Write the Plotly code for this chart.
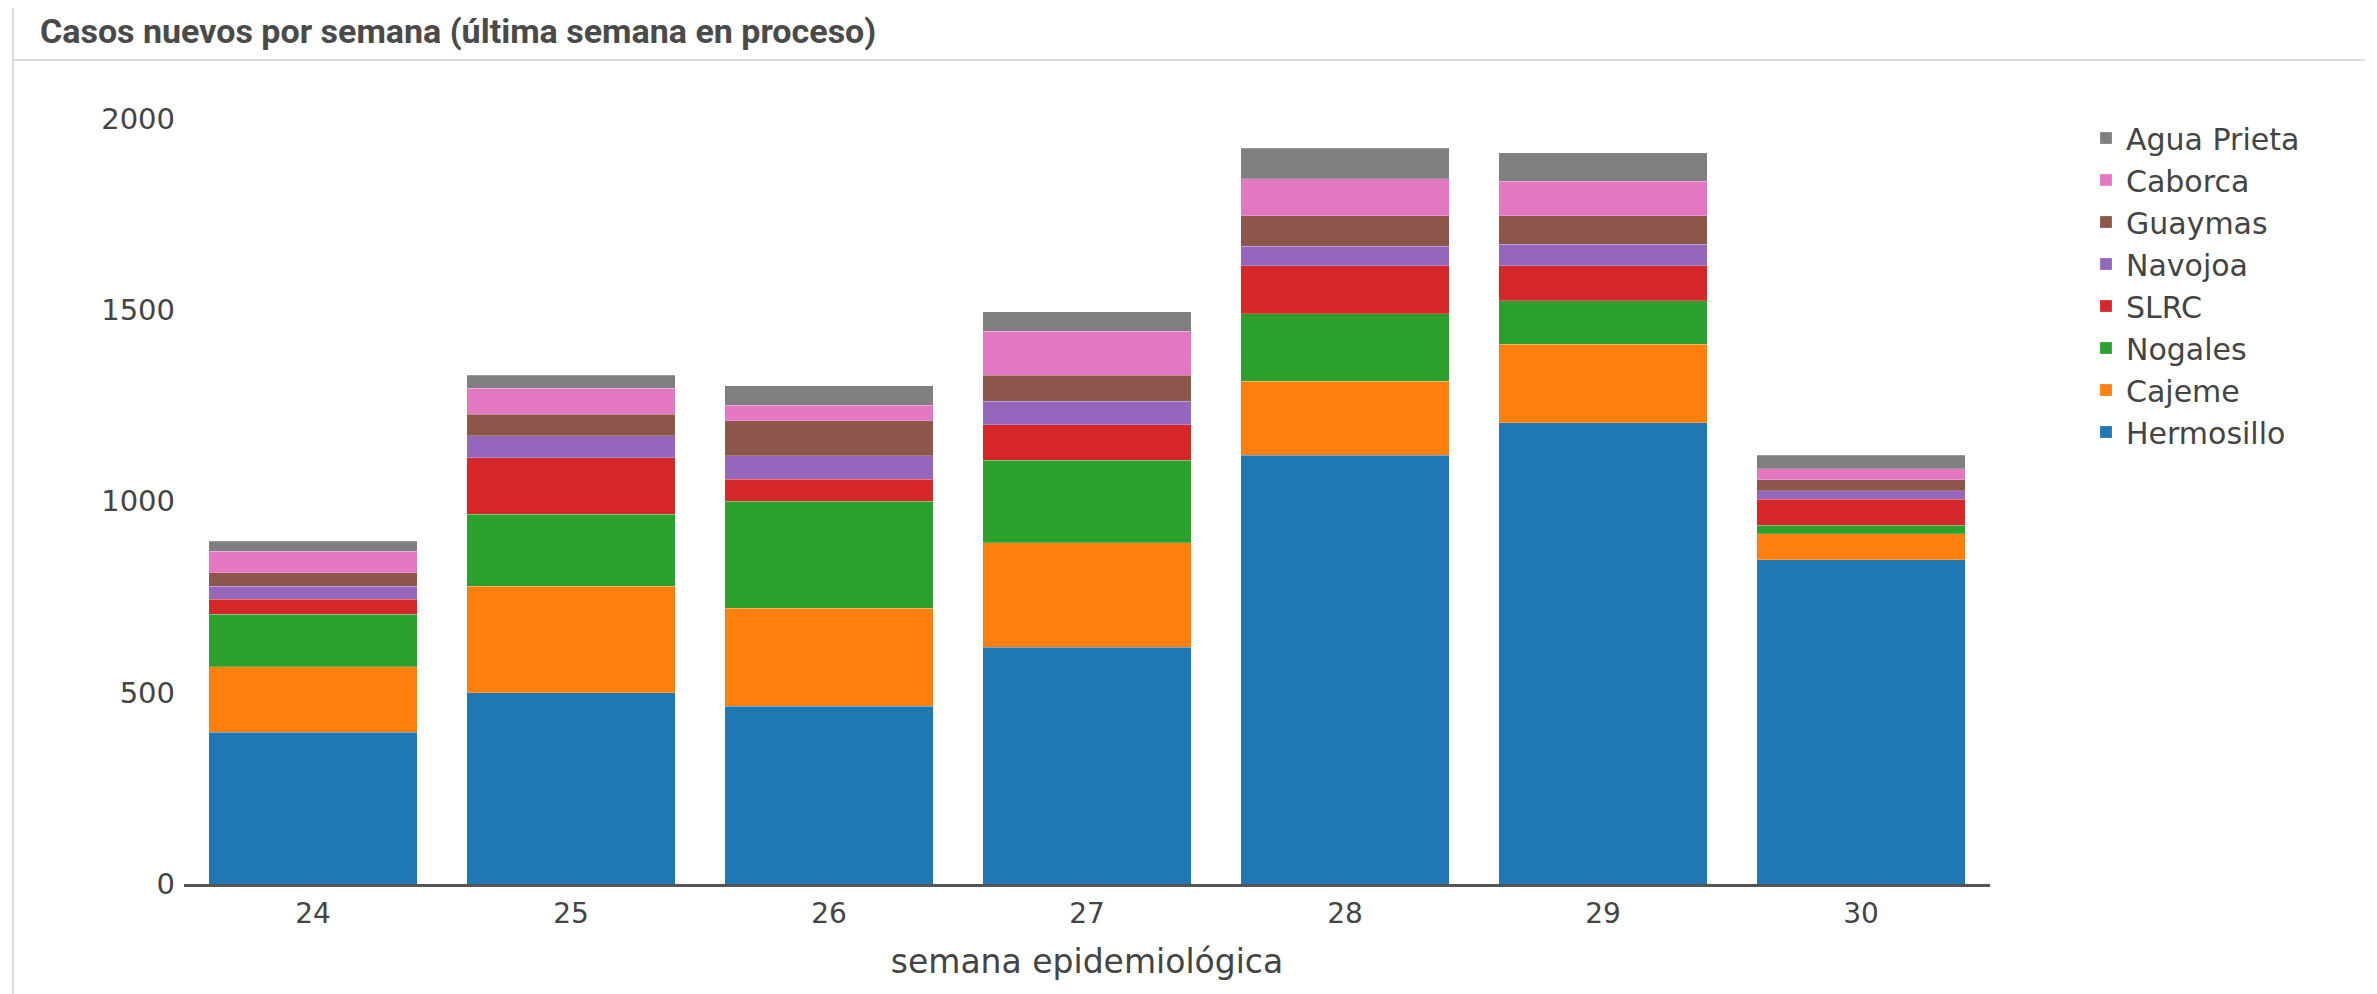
import plotly.graph_objects as go

weeks = ["24", "25", "26", "27", "28", "29", "30"]
hermosillo = [397, 500, 465, 619, 1120, 1206, 847]
cajeme = [171, 278, 256, 273, 194, 205, 68]
nogales = [137, 188, 279, 216, 176, 113, 22]
slrc = [39, 148, 58, 92, 125, 91, 68]
navojoa = [34, 57, 61, 62, 52, 57, 23]
guaymas = [35, 57, 92, 68, 79, 74, 29]
caborca = [57, 68, 40, 114, 97, 91, 28]
agua_prieta = [26, 34, 51, 52, 80, 74, 35]

series = [
    ("Hermosillo", hermosillo, "#1f77b4"),
    ("Cajeme", cajeme, "#ff7f0e"),
    ("Nogales", nogales, "#2ca02c"),
    ("SLRC", slrc, "#d62728"),
    ("Navojoa", navojoa, "#9467bd"),
    ("Guaymas", guaymas, "#8c564b"),
    ("Caborca", caborca, "#e377c2"),
    ("Agua Prieta", agua_prieta, "#7f7f7f"),
]

W, H = 2377, 994
L, R, T, B = 176, 395, 103, 118
PW, PH = W - L - R, H - T - B


def px(x):
    return (x - L) / PW


def py(y):
    return (H - B - y) / PH


fig = go.Figure()
for name, vals, col in series:
    fig.add_trace(go.Bar(
        x=weeks, y=vals, name=name,
        marker=dict(color=col, line=dict(color="rgba(255,255,255,0.35)", width=0.6)),
    ))

font_main = "Verdana, DejaVu Sans, sans-serif"
fig.update_layout(
    width=W, height=H,
    barmode="stack", bargap=0.19,
    paper_bgcolor="white", plot_bgcolor="white",
    margin=dict(l=L, r=R, t=T, b=B, autoexpand=False),
    font=dict(family=font_main, size=26, color="#444"),
    title=dict(
        text="<b>Casos nuevos por semana (última semana en proceso)</b>",
        font=dict(family="Roboto, Liberation Sans, sans-serif", size=34, color="#4a4a4a"),
        x=32 / W, xanchor="left", xref="container",
        y=1 - 23 / H, yanchor="middle", yref="container",
    ),
    legend=dict(
        x=px(2078), xanchor="left",
        y=py(104), yanchor="top",
        traceorder="reversed",
        font=dict(family=font_main, size=30, color="#444"),
        bgcolor="rgba(0,0,0,0)",
    ),
    xaxis=dict(
        type="category",
        showline=True, linecolor="#555", linewidth=3,
        showgrid=False, ticks="", ticklabelstandoff=2,
        tickfont=dict(family=font_main, size=28, color="#444"),
        title=dict(text="semana epidemiológica", standoff=22,
                   font=dict(family=font_main, size=33, color="#444")),
        automargin=False,
    ),
    yaxis=dict(
        range=[0, 2020], tickvals=[0, 500, 1000, 1500, 2000],
        showgrid=False, zeroline=False, showline=False,
        ticks="", ticklabelstandoff=8,
        tickfont=dict(family=font_main, size=29, color="#444"),
        automargin=False,
    ),
    shapes=[
        dict(type="line", xref="paper", yref="paper",
             x0=px(5), x1=px(2357), y0=py(52), y1=py(52),
             line=dict(color="#dddddd", width=2)),
        dict(type="line", xref="paper", yref="paper",
             x0=px(5), x1=px(5), y0=py(994), y1=py(0),
             line=dict(color="#dddddd", width=2)),
    ],
)

fig.write_html("out.html")
